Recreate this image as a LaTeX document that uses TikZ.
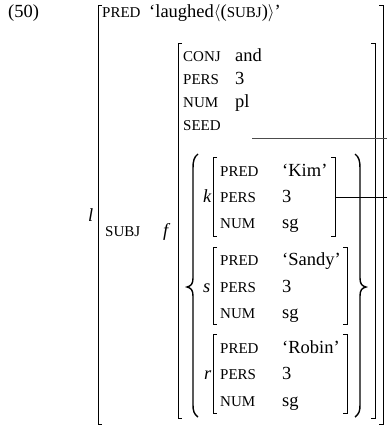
\documentclass[tikz,border=0pt]{standalone}
\usepackage{fontspec}
\setmainfont{Liberation Serif}
\newcommand\fsc[1]{{\fontsize{15}{17}\selectfont #1}}
\begin{document}
\begin{tikzpicture}[x=1pt,y=-1pt,
  txt/.style={anchor=base west,inner sep=0pt,font=\fontsize{18.5}{20}\selectfont},
  brk/.style={line width=0.9pt},
  brc/.style={line width=1.4pt},
  link/.style={line width=0.8pt}]
\useasboundingbox (0,0) rectangle (387,428);
% example number
\node[txt] (num) at (8,18) {(50)};
% outer f-structure l
\node[txt] (lpred) at (102,18) {\fsc{PRED}};
\node[txt] (lpredv) at (149,18) {`laughed$\langle$(\fsc{SUBJ})$\rangle$'};
\node[txt] (llab) at (88,221) {\textit{l}};
\node[txt] (subj) at (105,236) {\fsc{SUBJ}};
\node[txt] (flab) at (163,236) {\textit{f}};
% f-structure
\node[txt] (conj) at (183,61) {\fsc{CONJ}};
\node[txt] (conjv) at (235,61) {and};
\node[txt] (fpers) at (183,84) {\fsc{PERS}};
\node[txt] (fpersv) at (235,84) {3};
\node[txt] (fnum) at (183,107) {\fsc{NUM}};
\node[txt] (fnumv) at (235,107) {pl};
\node[txt] (seed) at (183,130) {\fsc{SEED}};
% Kim
\node[txt] (klab) at (203,202) {\textit{k}};
\node[txt] (kpred) at (220,176) {\fsc{PRED}};
\node[txt] (kpredv) at (282,176) {`Kim'};
\node[txt] (kpers) at (220,202) {\fsc{PERS}};
\node[txt] (kpersv) at (282,202) {3};
\node[txt] (knum) at (220,228) {\fsc{NUM}};
\node[txt] (knumv) at (282,228) {sg};
% Sandy
\node[txt] (slab) at (203,292) {\textit{s}};
\node[txt] (spred) at (220,265) {\fsc{PRED}};
\node[txt] (spredv) at (282,265) {`Sandy'};
\node[txt] (spers) at (220,292) {\fsc{PERS}};
\node[txt] (spersv) at (282,292) {3};
\node[txt] (snum) at (220,318) {\fsc{NUM}};
\node[txt] (snumv) at (282,318) {sg};
% Robin
\node[txt] (rlab) at (204,379) {\textit{r}};
\node[txt] (rpred) at (220,353) {\fsc{PRED}};
\node[txt] (rpredv) at (282,353) {`Robin'};
\node[txt] (rpers) at (220,379) {\fsc{PERS}};
\node[txt] (rpersv) at (282,379) {3};
\node[txt] (rnum) at (220,406) {\fsc{NUM}};
\node[txt] (rnumv) at (282,406) {sg};
% brackets
\draw[brk] (102,5) -- (98,5) -- (98,424) -- (102,424);
\draw[brk] (379,5) -- (383,5) -- (383,424) -- (379,424);
\draw[brk] (182,43) -- (178,43) -- (178,418) -- (182,418);
\draw[brk] (371,43) -- (375,43) -- (375,418) -- (371,418);
\draw[brk] (217,157) -- (213,157) -- (213,236) -- (217,236);
\draw[brk] (331,157) -- (335,157) -- (335,236) -- (331,236);
\draw[brk] (217,247) -- (213,247) -- (213,324) -- (217,324);
\draw[brk] (343,247) -- (347,247) -- (347,324) -- (343,324);
\draw[brk] (217,334) -- (213,334) -- (213,413) -- (217,413);
\draw[brk] (343,334) -- (347,334) -- (347,413) -- (343,413);
% set braces
\draw[brc] (198,154) .. controls (194,157) and (193,161) .. (193,168) -- (193,278)
  .. controls (193,284) and (191,286) .. (187,287)
  .. controls (191,288) and (193,290) .. (193,296) -- (193,405)
  .. controls (193,411) and (194,414) .. (198,417);
\draw[brc] (355,154) .. controls (359,157) and (360,161) .. (360,168) -- (360,278)
  .. controls (360,284) and (362,286) .. (366,287)
  .. controls (362,288) and (360,290) .. (360,296) -- (360,405)
  .. controls (360,411) and (359,414) .. (355,417);
% links
\coordinate (seedend) at (252,138);
\coordinate (seedout) at (387,138);
\coordinate (kimend) at (335,197);
\coordinate (kimout) at (387,197);
\draw[link,black!70] (seedend) -- (seedout);
\draw[link] (kimend) -- (kimout);
\end{tikzpicture}
\end{document}
